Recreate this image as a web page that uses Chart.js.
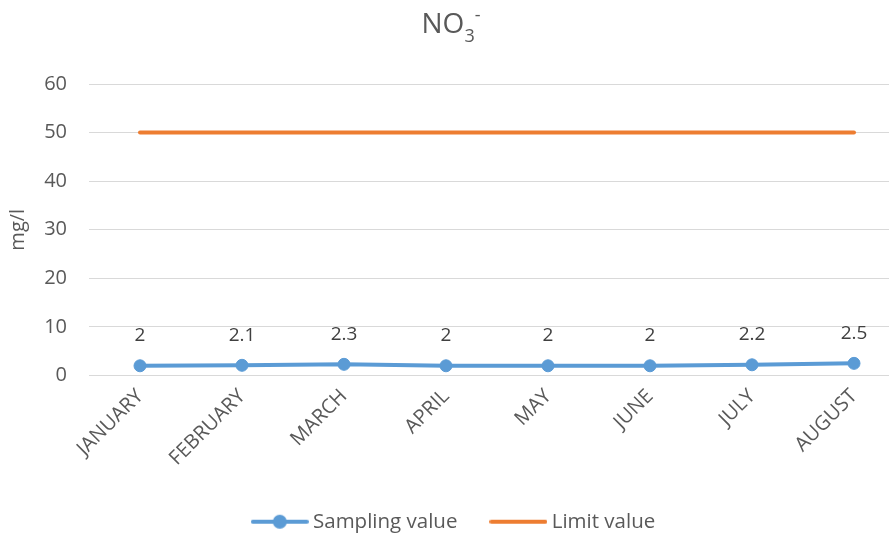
<!DOCTYPE html>
<html>
<head>
<meta charset="utf-8">
<script src="https://cdn.jsdelivr.net/npm/chart.js@4/dist/chart.umd.min.js"></script>
<style>
  html, body { margin: 0; padding: 0; background: #ffffff; overflow: hidden; }
  #wrap { width: 889px; height: 536px; overflow: hidden; }
</style>
</head>
<body>
<div id="wrap"><canvas id="chart" width="912" height="536"></canvas></div>
<script>
// Monthly NO3- readings against the regulatory limit
const months = ['JANUARY', 'FEBRUARY', 'MARCH', 'APRIL', 'MAY', 'JUNE', 'JULY', 'AUGUST'];
const samplingValues = [2, 2.1, 2.3, 2, 2, 2, 2.2, 2.5];
const limitValues = [50, 50, 50, 50, 50, 50, 50, 50];
const yRange = { min: 0, max: 60, step: 10 };

const BLUE = '#5B9BD5';
const ORANGE = '#ED7D31';
const TEXT = '#595959';
const FONT = "'Open Sans', 'DejaVu Sans', sans-serif";

// Legend markers: a short line, with a dot for the sampled series
function legendMarker(color, withDot) {
  const c = document.createElement('canvas');
  c.width = 58; c.height = 16;
  const g = c.getContext('2d');
  g.strokeStyle = color; g.lineWidth = 4; g.lineCap = 'round';
  g.beginPath(); g.moveTo(2, 8); g.lineTo(56, 8); g.stroke();
  if (withDot) {
    g.fillStyle = color;
    g.beginPath(); g.arc(29, 8, 7, 0, Math.PI * 2); g.fill();
  }
  return c;
}
const markers = [legendMarker(BLUE, true), legendMarker(ORANGE, false)];

// Title with subscript and superscript: NO3-
const formulaTitle = {
  id: 'formulaTitle',
  afterDraw(chart) {
    const g = chart.ctx;
    const parts = [
      { t: 'NO', size: 28, dy: 0 },
      { t: '3', size: 18, dy: 9 },
      { t: '-', size: 18, dy: -12 }
    ];
    g.save();
    g.fillStyle = TEXT;
    g.textBaseline = 'alphabetic';
    g.textAlign = 'left';
    let total = 0;
    parts.forEach(p => { g.font = p.size + 'px ' + FONT; p.w = g.measureText(p.t).width; total += p.w; });
    let x = 451 - total / 2;
    const base = 33;
    parts.forEach(p => { g.font = p.size + 'px ' + FONT; g.fillText(p.t, x, base + p.dy); x += p.w; });
    g.restore();
  }
};

// Value labels above the sampled points
const valueLabels = {
  id: 'valueLabels',
  afterDatasetsDraw(chart) {
    const g = chart.ctx;
    const meta = chart.getDatasetMeta(0);
    g.save();
    g.fillStyle = '#404040';
    g.font = '19px ' + FONT;
    g.textAlign = 'center';
    g.textBaseline = 'middle';
    meta.data.forEach((pt, i) => {
      g.fillText(String(samplingValues[i]), pt.x, pt.y - 30);
    });
    g.restore();
  }
};

new Chart(document.getElementById('chart'), {
  type: 'line',
  data: {
    labels: months,
    datasets: [
      {
        label: 'Sampling value',
        data: samplingValues,
        borderColor: BLUE,
        backgroundColor: BLUE,
        borderWidth: 4,
        pointRadius: 6,
        pointBorderWidth: 1,
        pointBackgroundColor: BLUE,
        pointBorderColor: BLUE,
        tension: 0
      },
      {
        label: 'Limit value',
        data: limitValues,
        borderColor: ORANGE,
        backgroundColor: ORANGE,
        borderWidth: 4,
        borderCapStyle: 'round',
        pointRadius: 0,
        tension: 0
      }
    ]
  },
  options: {
    responsive: false,
    animation: false,
    devicePixelRatio: 1,
    layout: { padding: { top: 84, right: 0, left: 0, bottom: -6 } },
    plugins: {
      title: { display: false },
      tooltip: { enabled: false },
      legend: {
        position: 'bottom',
        labels: {
          usePointStyle: true,
          pointStyleWidth: 46,
          color: TEXT,
          font: { family: FONT, size: 20.5 },
          padding: 38,
          generateLabels(chart) {
            return chart.data.datasets.map((ds, i) => ({
              text: ds.label,
              pointStyle: markers[i],
              fillStyle: ds.borderColor,
              strokeStyle: ds.borderColor,
              lineWidth: 0,
              fontColor: TEXT,
              hidden: false,
              datasetIndex: i
            }));
          }
        }
      }
    },
    scales: {
      x: {
        offset: true,
        grid: { display: false, drawTicks: false },
        border: { display: false },
        ticks: {
          minRotation: 45,
          maxRotation: 45,
          color: TEXT,
          font: { family: FONT, size: 20 },
          padding: 9
        },
        afterFit(scale) { scale.height = 98; scale.paddingRight = 0; }
      },
      y: {
        min: yRange.min,
        max: yRange.max,
        grid: { color: '#d9d9d9', lineWidth: 1, drawTicks: false },
        border: { display: false },
        ticks: {
          stepSize: yRange.step,
          color: TEXT,
          font: { family: FONT, size: 20 },
          padding: 22
        },
        title: {
          display: true,
          text: 'mg/l',
          color: TEXT,
          font: { family: FONT, size: 20 },
          padding: { top: 6, bottom: 0 }
        },
        afterFit(scale) { scale.width = 89; }
      }
    }
  },
  plugins: [formulaTitle, valueLabels]
});
</script>
</body>
</html>
